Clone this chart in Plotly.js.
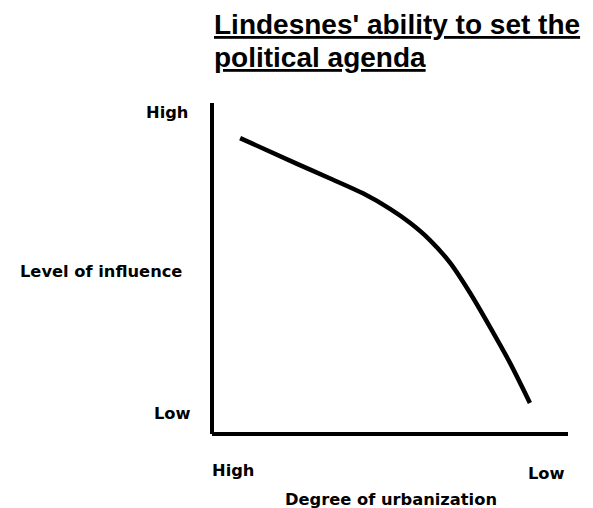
<!DOCTYPE html>
<html>
<head>
<meta charset="utf-8">
<script src="https://cdn.plot.ly/plotly-3.0.1.min.js"></script>
<style>html,body{margin:0;padding:0;background:#fff;}#chart{width:593px;height:508px;}</style>
</head>
<body>
<div id="chart"></div>
<script>
// Data (relative scale 0-100: urbanization High -> Low, influence Low -> High)
var urbanization = [7.9, 23.9, 33.2, 42.4, 50.0, 55.6, 61.2, 66.9, 72.5, 78.1, 83.7, 89.3];
var influence    = [89.4, 81.6, 77.2, 72.7, 68.0, 63.8, 58.6, 51.7, 42.6, 32.3, 21.5, 9.4];
var titleLines = ["Lindesnes' ability to set the", "political agenda"];
var yTickLabels = ["High", "Low"];
var xTickLabels = ["High", "Low"];
var yAxisTitle = "Level of influence";
var xAxisTitle = "Degree of urbanization";

var W = 593, H = 508;
var L = 212, R = 568, T = 103, B = 434;
function px(x){ return (x - L) / (R - L); }
function py(y){ return (B - y) / (B - T); }

var lblFont = {family: "DejaVu Sans", size: 16.3, color: "#000", weight: "bold"};
var ttlFont = {family: "Liberation Sans, Arial", size: 28, color: "#000", weight: "bold", lineposition: "under"};

var ann = [
  {text: titleLines[0], x: px(213), y: py(24.3), xanchor: "left", yanchor: "middle", font: ttlFont},
  {text: titleLines[1], x: px(213), y: py(57.3), xanchor: "left", yanchor: "middle", font: ttlFont},
  {text: yTickLabels[0], x: px(189), y: py(113), xanchor: "right", yanchor: "middle", font: lblFont},
  {text: yTickLabels[1], x: px(192), y: py(413), xanchor: "right", yanchor: "middle", font: lblFont},
  {text: yAxisTitle, x: px(100.5), y: py(271), xanchor: "center", yanchor: "middle", font: lblFont},
  {text: xTickLabels[0], x: px(232.5), y: py(470), xanchor: "center", yanchor: "middle", font: lblFont},
  {text: xTickLabels[1], x: px(546), y: py(473), xanchor: "center", yanchor: "middle", font: lblFont},
  {text: xAxisTitle, x: px(390.5), y: py(499), xanchor: "center", yanchor: "middle", font: lblFont}
];
ann.forEach(function(a){ a.xref = "paper"; a.yref = "paper"; a.showarrow = false; a.borderpad = 0; });

var trace = {
  x: urbanization, y: influence, type: "scatter", mode: "lines",
  line: {color: "#000", width: 4.5, shape: "spline", smoothing: 0.8},
  hoverinfo: "none"
};

var layout = {
  width: W, height: H,
  margin: {l: L, r: W - R, t: T, b: H - B, pad: 0},
  paper_bgcolor: "#fff", plot_bgcolor: "#fff",
  showlegend: false,
  xaxis: {range: [0, 100], showgrid: false, zeroline: false, showticklabels: false, ticks: "", showline: false, fixedrange: true},
  yaxis: {range: [0, 100], showgrid: false, zeroline: false, showticklabels: false, ticks: "", showline: false, fixedrange: true},
  shapes: [
    {type: "line", xref: "paper", yref: "paper", x0: 0, x1: 0, y0: 0, y1: 1, line: {color: "#000", width: 4}},
    {type: "line", xref: "paper", yref: "paper", x0: 0, x1: 1, y0: 0, y1: 0, line: {color: "#000", width: 4}}
  ],
  annotations: ann
};

Plotly.newPlot("chart", [trace], layout, {displayModeBar: false, staticPlot: true});
</script>
</body>
</html>
